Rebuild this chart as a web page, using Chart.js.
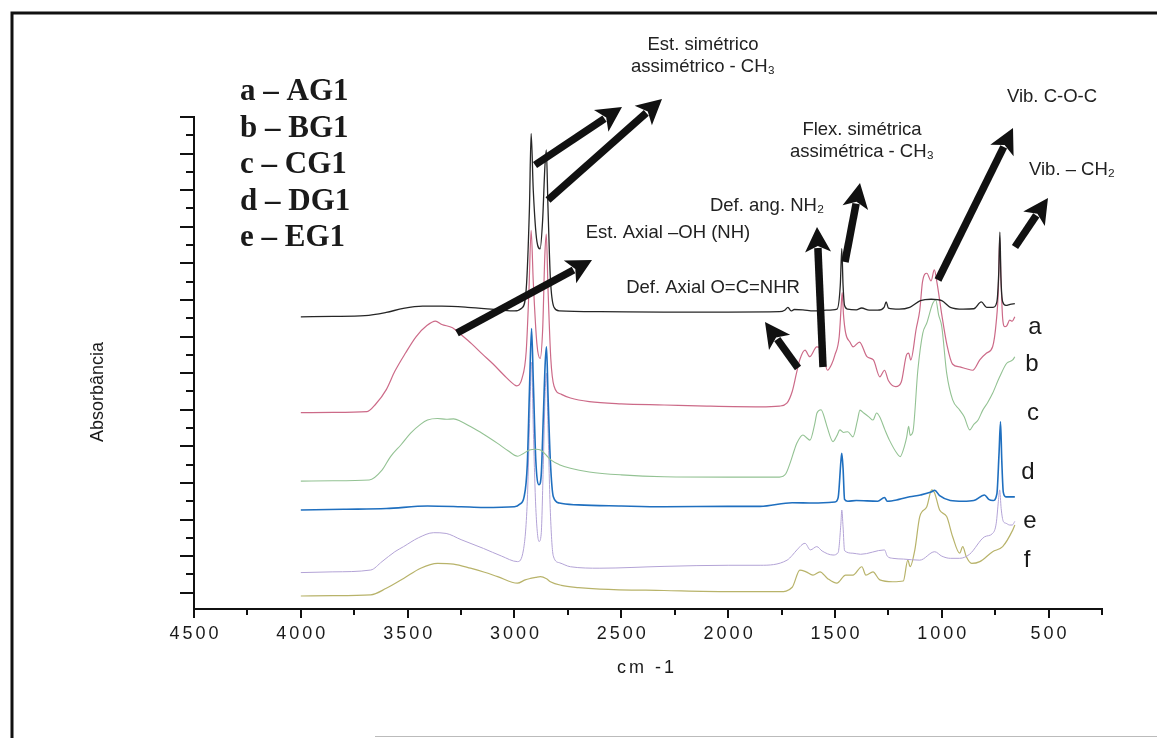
<!DOCTYPE html>
<html>
<head>
<meta charset="utf-8">
<script src="https://cdn.jsdelivr.net/npm/chart.js@4.4.1/dist/chart.umd.min.js"></script>
<style>
    body { margin: 0; background: #fff; }
    #wrap { width: 1157px; height: 738px; position: relative; }
</style>
</head>
<body>
<div id="wrap"><canvas id="chart"></canvas></div>
<script>
// wavenumbers (cm-1) and absorbance (offset, arbitrary units) for each spectrum
const aWn = [4000, 3850, 3700, 3600, 3520, 3430, 3340, 3220, 3070, 3000, 2965, 2945, 2930, 2922, 2912, 2895, 2880, 2868, 2858, 2851, 2843, 2832, 2815, 2790, 2600, 2300, 2000, 1760, 1735, 1720, 1705, 1690, 1650, 1600, 1540, 1490, 1475, 1468, 1462, 1455, 1440, 1400, 1375, 1340, 1300, 1270, 1260, 1250, 1200, 1150, 1100, 1050, 1000, 960, 900, 850, 815, 790, 760, 742, 733, 728, 723, 715, 700, 680, 658];
const aAbs = [7.54, 7.55, 7.57, 7.66, 7.77, 7.83, 7.83, 7.80, 7.73, 7.70, 7.78, 8.3, 10.5, 12.55, 11.0, 9.6, 9.4, 10.2, 11.6, 12.1, 10.5, 8.6, 7.8, 7.70, 7.68, 7.67, 7.67, 7.68, 7.72, 7.80, 7.70, 7.74, 7.73, 7.70, 7.72, 7.75, 8.4, 9.4, 8.4, 7.85, 7.75, 7.73, 7.78, 7.72, 7.72, 7.80, 7.95, 7.78, 7.75, 7.80, 7.98, 8.02, 7.98, 7.80, 7.75, 7.76, 7.95, 7.80, 7.80, 7.95, 8.8, 9.85, 8.6, 7.95, 7.85, 7.88, 7.90];

const bWn = [4000, 3850, 3690, 3650, 3600, 3560, 3510, 3460, 3410, 3370, 3340, 3290, 3250, 3200, 3150, 3100, 3050, 3000, 2990, 2965, 2945, 2932, 2922, 2912, 2895, 2880, 2868, 2858, 2851, 2843, 2830, 2815, 2780, 2738, 2650, 2500, 2300, 2100, 1850, 1760, 1725, 1700, 1680, 1665, 1640, 1618, 1585, 1560, 1535, 1515, 1500, 1480, 1470, 1466, 1460, 1450, 1430, 1415, 1385, 1350, 1320, 1290, 1268, 1250, 1215, 1190, 1165, 1155, 1145, 1120, 1103, 1090, 1070, 1050, 1035, 1022, 1000, 975, 950, 915, 885, 855, 822, 790, 762, 745, 735, 729, 723, 715, 705, 695, 682, 670, 658];
const bAbs = [4.92, 4.93, 4.95, 5.15, 5.55, 6.05, 6.55, 7.0, 7.30, 7.42, 7.33, 7.24, 7.05, 6.80, 6.52, 6.25, 5.95, 5.68, 5.65, 5.85, 6.6, 8.3, 9.9, 8.5, 6.8, 6.4, 7.2, 9.2, 9.8, 8.3, 6.4, 5.65, 5.42, 5.32, 5.22, 5.16, 5.13, 5.10, 5.08, 5.10, 5.18, 5.50, 6.00, 6.36, 6.63, 6.45, 6.72, 6.63, 6.08, 6.25, 6.5, 7.0, 7.9, 8.2, 7.6, 7.1, 6.85, 6.72, 6.85, 6.45, 6.36, 5.90, 6.08, 5.80, 5.63, 5.75, 6.50, 6.55, 6.36, 7.2, 7.72, 8.50, 8.73, 8.52, 8.82, 8.46, 7.60, 6.75, 6.25, 6.17, 6.12, 6.08, 6.36, 6.55, 6.72, 7.40, 8.3, 9.7, 8.6, 7.5, 7.27, 7.30, 7.45, 7.42, 7.54];

const cWn = [4000, 3850, 3680, 3620, 3580, 3530, 3486, 3440, 3407, 3360, 3320, 3285, 3250, 3206, 3150, 3079, 3030, 2986, 2960, 2930, 2900, 2878, 2850, 2830, 2790, 2738, 2650, 2500, 2300, 2000, 1760, 1730, 1710, 1690, 1678, 1650, 1630, 1617, 1595, 1584, 1565, 1545, 1537, 1509, 1490, 1477, 1460, 1440, 1416, 1395, 1383, 1365, 1340, 1322, 1305, 1290, 1266, 1245, 1210, 1195, 1175, 1164, 1155, 1148, 1135, 1112, 1089, 1070, 1042, 1028, 1015, 1000, 977, 949, 916, 895, 869, 850, 830, 808, 785, 762, 729, 696, 668, 658];
const cAbs = [3.05, 3.06, 3.08, 3.35, 3.72, 4.05, 4.36, 4.60, 4.72, 4.76, 4.74, 4.75, 4.68, 4.54, 4.35, 4.08, 3.88, 3.73, 3.80, 3.90, 3.92, 3.90, 3.75, 3.63, 3.50, 3.40, 3.30, 3.22, 3.17, 3.16, 3.16, 3.25, 3.54, 3.90, 4.09, 4.31, 4.22, 4.17, 4.60, 4.91, 5.00, 4.70, 4.54, 4.13, 4.30, 4.45, 4.38, 4.40, 4.26, 4.70, 4.99, 4.91, 4.80, 4.72, 4.91, 4.80, 4.45, 4.17, 3.81, 3.72, 4.0, 4.26, 4.55, 4.30, 4.40, 6.08, 7.09, 7.37, 7.91, 8.00, 7.60, 7.27, 6.00, 5.27, 4.99, 4.81, 4.45, 4.60, 4.72, 4.99, 5.20, 5.45, 5.90, 6.27, 6.36, 6.45];

const dWn = [4000, 3800, 3600, 3407, 3250, 3145, 3000, 2975, 2955, 2940, 2930, 2920, 2912, 2900, 2885, 2875, 2865, 2856, 2850, 2843, 2832, 2818, 2790, 2700, 2500, 2300, 2000, 1850, 1700, 1600, 1500, 1485, 1472, 1468, 1462, 1455, 1440, 1400, 1300, 1268, 1255, 1200, 1150, 1100, 1050, 1033, 1010, 960, 900, 850, 800, 780, 760, 742, 732, 725, 719, 712, 700, 680, 658];
const dAbs = [2.26, 2.28, 2.30, 2.37, 2.35, 2.33, 2.35, 2.42, 2.62, 3.5, 5.5, 7.22, 5.8, 3.6, 2.95, 3.2, 4.8, 6.3, 6.72, 5.4, 3.6, 2.62, 2.45, 2.40, 2.37, 2.35, 2.36, 2.36, 2.46, 2.45, 2.48, 2.6, 3.6, 3.81, 3.4, 2.55, 2.50, 2.52, 2.50, 2.60, 2.50, 2.55, 2.62, 2.67, 2.75, 2.80, 2.65, 2.52, 2.50, 2.52, 2.67, 2.55, 2.52, 2.7, 3.8, 4.67, 3.6, 2.75, 2.62, 2.62, 2.62];

const eWn = [4000, 3850, 3673, 3620, 3560, 3519, 3450, 3378, 3320, 3250, 3145, 3060, 2986, 2958, 2940, 2930, 2920, 2912, 2900, 2885, 2875, 2865, 2856, 2850, 2843, 2832, 2818, 2790, 2738, 2600, 2300, 2000, 1850, 1724, 1700, 1678, 1640, 1615, 1585, 1560, 1509, 1485, 1472, 1468, 1462, 1455, 1416, 1380, 1268, 1255, 1229, 1180, 1103, 1033, 1000, 960, 916, 870, 799, 762, 745, 735, 729, 722, 712, 700, 682, 670, 658];
const eAbs = [0.55, 0.57, 0.62, 0.85, 1.12, 1.26, 1.50, 1.64, 1.62, 1.45, 1.21, 1.00, 0.85, 1.17, 2.5, 4.5, 6.3, 4.5, 2.3, 1.4, 1.6, 3.5, 5.5, 6.0, 4.5, 2.2, 1.0, 0.82, 0.71, 0.67, 0.72, 0.75, 0.75, 0.89, 1.02, 1.17, 1.35, 1.17, 1.26, 1.14, 1.03, 1.10, 1.9, 2.26, 1.8, 1.15, 1.08, 1.05, 1.17, 1.00, 0.94, 0.92, 0.89, 1.12, 1.0, 0.94, 0.94, 1.05, 1.53, 1.62, 1.9, 2.5, 2.81, 2.3, 1.95, 1.90, 1.85, 1.85, 1.95];

const fWn = [4000, 3850, 3673, 3600, 3519, 3439, 3360, 3285, 3206, 3140, 3079, 2986, 2950, 2925, 2900, 2878, 2850, 2832, 2780, 2700, 2600, 2300, 2000, 1850, 1757, 1700, 1664, 1635, 1603, 1570, 1535, 1491, 1450, 1416, 1374, 1355, 1322, 1290, 1229, 1180, 1159, 1148, 1126, 1103, 1070, 1047, 1033, 1010, 977, 949, 916, 902, 885, 860, 822, 762, 715, 668, 658];
const fAbs = [-0.09, -0.08, -0.06, 0.12, 0.39, 0.67, 0.80, 0.78, 0.67, 0.56, 0.44, 0.26, 0.35, 0.39, 0.42, 0.44, 0.38, 0.30, 0.20, 0.14, 0.10, 0.06, 0.03, 0.03, 0.03, 0.15, 0.62, 0.57, 0.48, 0.57, 0.39, 0.26, 0.48, 0.48, 0.71, 0.48, 0.57, 0.35, 0.30, 0.32, 0.89, 0.71, 1.17, 2.08, 2.35, 2.81, 2.72, 2.26, 2.08, 1.53, 1.08, 1.26, 0.98, 0.80, 0.85, 1.12, 1.26, 1.71, 1.85];

const curveNames = ['a', 'b', 'c', 'd', 'e', 'f'];
const sampleNames = ['a – AG1', 'b – BG1', 'c – CG1', 'd – DG1', 'e – EG1'];
const xTickLabels = [4500, 4000, 3500, 3000, 2500, 2000, 1500, 1000, 500];

const series = [[aWn, aAbs], [bWn, bAbs], [cWn, cAbs], [dWn, dAbs], [eWn, eAbs], [fWn, fAbs]];
const colors = ['#262626', '#cc6a88', '#93c293', '#1f6fbf', '#b3a3d6', '#b8b36a'];
const widths = [1.3, 1.2, 1.1, 1.6, 1.0, 1.2];

function pts(wn, abs) {
    return wn.map((x, i) => ({x: x, y: abs[i]}));
}

// annotation arrows: [tailX, tailY, headX, headY]
const arrows = [
    [535, 165, 622, 107],
    [548, 200, 662, 99],
    [457, 333, 592, 260],
    [798, 368, 765, 322],
    [823, 367, 817, 227],
    [845, 262, 860, 183],
    [938, 280, 1013, 128],
    [1015, 247, 1048, 198]
];
const notes = [
    ['Est. simétrico', 703, 45],
    ['assimétrico - CH₃', 703, 67],
    ['Flex. simétrica', 862, 130],
    ['assimétrica - CH₃', 862, 152],
    ['Vib. C-O-C', 1052, 97],
    ['Vib. – CH₂', 1072, 170],
    ['Def. ang. NH₂', 767, 206],
    ['Est. Axial –OH (NH)', 668, 233],
    ['Def. Axial O=C=NHR', 713, 288]
];
const curveLabelPos = [[1035, 327], [1032, 364], [1033, 413], [1028, 472], [1030, 521], [1027, 560]];

function arrow(ctx, x1, y1, x2, y2) {
    const ang = Math.atan2(y2 - y1, x2 - x1);
    const hl = 25, hw = 13;
    const bx = x2 - hl * Math.cos(ang), by = y2 - hl * Math.sin(ang);
    ctx.lineWidth = 7.5;
    ctx.lineCap = 'butt';
    ctx.beginPath();
    ctx.moveTo(x1, y1);
    ctx.lineTo(bx + 4 * Math.cos(ang), by + 4 * Math.sin(ang));
    ctx.stroke();
    ctx.beginPath();
    ctx.moveTo(x2, y2);
    ctx.lineTo(bx + hw * Math.sin(ang), by - hw * Math.cos(ang));
    ctx.lineTo(bx + 6 * Math.cos(ang), by + 6 * Math.sin(ang));
    ctx.lineTo(bx - hw * Math.sin(ang), by + hw * Math.cos(ang));
    ctx.closePath();
    ctx.fill();
}

const decor = {
    id: 'decor',
    afterDraw(chart) {
        const ctx = chart.ctx;
        const xs = chart.scales.x;
        const ys = chart.scales.y;
        const area = chart.chartArea;
        ctx.save();

        // outer frame
        ctx.strokeStyle = '#111';
        ctx.lineWidth = 3;
        ctx.beginPath();
        ctx.moveTo(12, 738);
        ctx.lineTo(12, 13);
        ctx.lineTo(1157, 13);
        ctx.stroke();
        ctx.strokeStyle = '#bbb';
        ctx.lineWidth = 1;
        ctx.beginPath();
        ctx.moveTo(375, 736.5);
        ctx.lineTo(1157, 736.5);
        ctx.stroke();

        // x ticks
        ctx.strokeStyle = '#111';
        ctx.lineWidth = 2;
        for (let v = 250; v <= 4500; v += 250) {
            const px = Math.round(xs.getPixelForValue(v));
            const len = v % 500 === 0 ? 9 : 6;
            ctx.beginPath();
            ctx.moveTo(px, area.bottom);
            ctx.lineTo(px, area.bottom + len);
            ctx.stroke();
        }
        // y ticks
        for (let v = 0; v <= 13; v += 0.5) {
            const py = Math.round(ys.getPixelForValue(v));
            const len = v % 1 === 0 ? 14 : 8;
            ctx.beginPath();
            ctx.moveTo(area.left, py);
            ctx.lineTo(area.left - len, py);
            ctx.stroke();
        }

        // x tick labels
        ctx.fillStyle = '#1a1a1a';
        ctx.font = '18px "Liberation Sans", Arial, sans-serif';
        ctx.letterSpacing = '3px';
        ctx.textAlign = 'center';
        ctx.textBaseline = 'middle';
        xTickLabels.forEach(v => {
            ctx.fillText(String(v), xs.getPixelForValue(v) + 1.5, 634);
        });
        ctx.fillText('cm -1', 647, 668);
        ctx.letterSpacing = '0px';

        // y title
        ctx.save();
        ctx.translate(98, 392);
        ctx.rotate(-Math.PI / 2);
        ctx.font = '18px "Liberation Sans", Arial, sans-serif';
        ctx.fillText('Absorbância', 0, 0);
        ctx.restore();

        // curve letters
        ctx.font = '24px "Liberation Sans", Arial, sans-serif';
        curveNames.forEach((n, i) => {
            ctx.fillText(n, curveLabelPos[i][0], curveLabelPos[i][1]);
        });

        // sample legend
        ctx.font = 'bold 31px "Liberation Serif", "Times New Roman", serif';
        ctx.textAlign = 'left';
        ctx.textBaseline = 'alphabetic';
        sampleNames.forEach((s, i) => {
            ctx.fillText(s, 240, 100 + i * 36.6);
        });

        // band notes
        ctx.font = '18.5px "Liberation Sans", Arial, sans-serif';
        ctx.textAlign = 'center';
        ctx.textBaseline = 'middle';
        ctx.fillStyle = '#222';
        notes.forEach(n => ctx.fillText(n[0], n[1], n[2]));

        // arrows
        ctx.strokeStyle = '#111';
        ctx.fillStyle = '#111';
        arrows.forEach(a => arrow(ctx, a[0], a[1], a[2], a[3]));

        ctx.restore();
    }
};

new Chart(document.getElementById('chart'), {
    type: 'line',
    data: {
        datasets: series.map((s, i) => ({
            label: curveNames[i],
            data: pts(s[0], s[1]),
            borderColor: colors[i],
            borderWidth: widths[i],
            pointRadius: 0,
            fill: false,
            cubicInterpolationMode: 'monotone'
        }))
    },
    options: {
        responsive: true,
        maintainAspectRatio: false,
        animation: false,
        layout: {
            padding: {left: 186, right: 55, top: 117, bottom: 121}
        },
        plugins: {
            legend: {display: false},
            tooltip: {enabled: false}
        },
        scales: {
            x: {
                type: 'linear',
                reverse: true,
                min: 250,
                max: 4500,
                grid: {display: false},
                ticks: {display: false},
                border: {display: true, color: '#111', width: 2}
            },
            y: {
                type: 'linear',
                min: -0.445,
                max: 13,
                grid: {display: false},
                ticks: {display: false},
                border: {display: true, color: '#111', width: 2}
            }
        }
    },
    plugins: [decor]
});
</script>
</body>
</html>
